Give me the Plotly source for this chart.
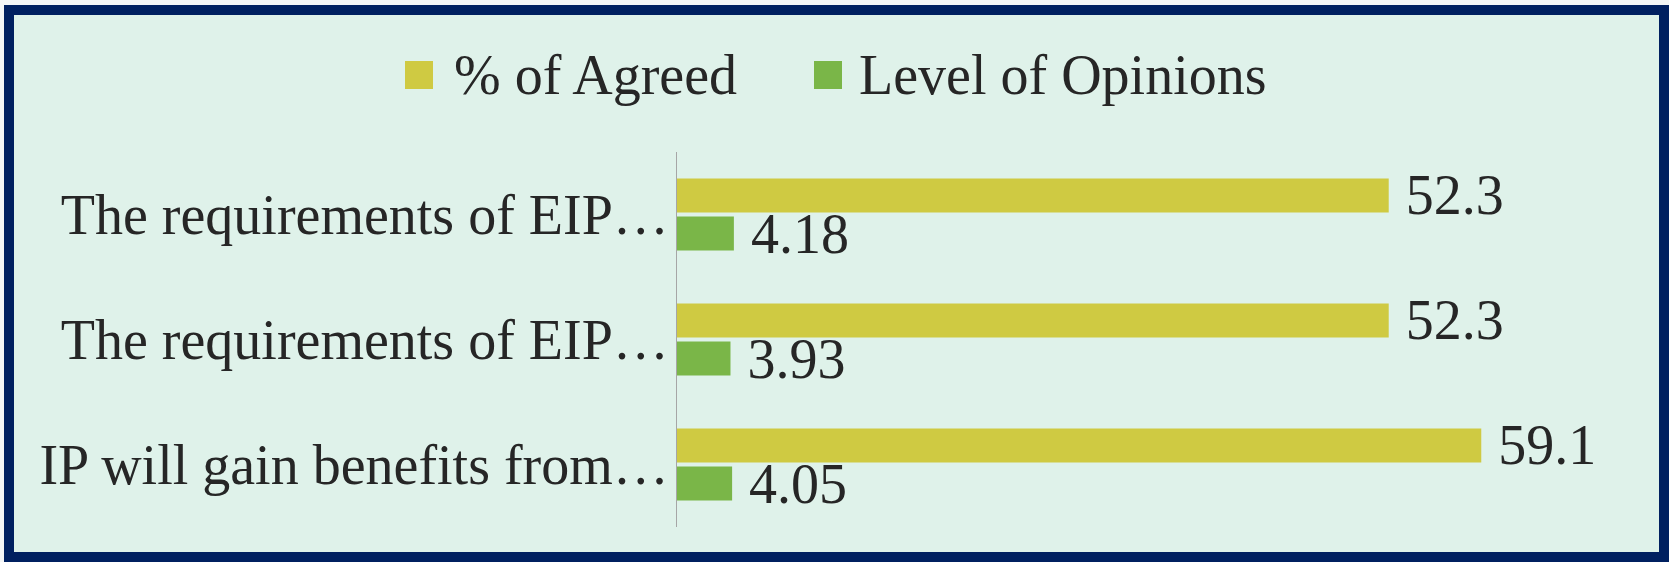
import plotly.graph_objects as go

# ---- data ----
categories = ["The requirements of EIP…", "The requirements of EIP…", "IP will gain benefits from…"]
pct_agreed = [52.3, 52.3, 59.1]
level_opinions = [4.18, 3.93, 4.05]
series_names = ["% of Agreed", "Level of Opinions"]
series_colors = ["#CFCA42", "#7AB648"]

FONT = "Liberation Serif, Times New Roman, serif"
TXT = "#262626"
FS = 56

W, H = 1669, 562
L, R, T, B = 677, 19, 152, 35
pw = W - L - R
ph = H - T - B


def px_x(x):
    return (x - L) / pw


def px_y(y):
    return (H - B - y) / ph


pos = list(range(len(categories)))

fig = go.Figure()
for name, vals, col in zip(series_names, [pct_agreed, level_opinions], series_colors):
    fig.add_trace(go.Bar(
        y=pos, x=vals, name=name, orientation="h",
        marker=dict(color=col, line=dict(width=0)),
        text=[str(v) for v in vals], texttemplate="\u00a0%{text}",
        textposition="outside", constraintext="none", cliponaxis=False,
        textfont=dict(family=FONT, size=FS, color=TXT),
        showlegend=False,
    ))

shapes = [
    dict(type="rect", xref="paper", yref="paper", layer="below",
         x0=px_x(9), x1=px_x(1664), y0=px_y(10), y1=px_y(557),
         fillcolor="#DFF2EA", line=dict(color="#002060", width=10)),
]
annotations = []
legend_sq_x = [405, 814]
legend_txt_x = [452, 857]
for name, col, sx, tx in zip(series_names, series_colors, legend_sq_x, legend_txt_x):
    shapes.append(dict(type="rect", xref="paper", yref="paper",
                       x0=px_x(sx), x1=px_x(sx + 28), y0=px_y(89), y1=px_y(61),
                       fillcolor=col, line=dict(width=0)))
    annotations.append(dict(xref="paper", yref="paper", x=px_x(tx), y=px_y(75),
                            xanchor="left", yanchor="middle", showarrow=False,
                            text=name, font=dict(family=FONT, size=FS, color=TXT)))

fig.update_layout(
    width=W, height=H, autosize=False,
    margin=dict(l=L, r=R, t=T, b=B, pad=0),
    paper_bgcolor="#F4F6F6", plot_bgcolor="rgba(0,0,0,0)",
    barmode="group", bargap=0.39, bargroupgap=0.107,
    font=dict(family=FONT, size=FS, color=TXT),
    xaxis=dict(range=[0, 71.5], visible=False, showgrid=False, zeroline=False),
    yaxis=dict(tickvals=pos, ticktext=categories, range=[2.5, -0.5],
               showline=True, linecolor="#A6A6A6", linewidth=1,
               ticks="", ticklabelstandoff=-4, showgrid=False, zeroline=False,
               tickfont=dict(family=FONT, size=FS, color=TXT)),
    shapes=shapes, annotations=annotations,
    showlegend=False,
)

fig.write_html("out.html", config={"displayModeBar": False},
               post_script="document.body.style.margin='0';document.body.style.overflow='hidden';")
